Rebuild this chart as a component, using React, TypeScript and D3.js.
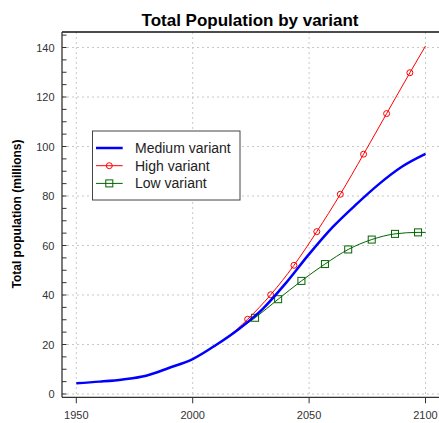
import React from "react";
import * as d3 from "d3";

const mediumYears = [1950, 1960, 1970, 1980, 1990, 2000, 2010, 2020, 2030, 2040, 2050, 2060, 2070, 2080, 2090, 2100];
const mediumValues = [4.3, 5.0, 5.9, 7.4, 10.6, 14.1, 19.8, 26.4, 34.3, 44.8, 56.5, 67.3, 76.4, 84.8, 91.9, 97.0];

const highYears = [2010, 2015, 2023.6, 2033.5, 2043.5, 2053.3, 2063.4, 2073.4, 2083.3, 2093.3, 2100];
const highValues = [19.8, 23.0, 30.2, 40.1, 52.0, 65.6, 80.7, 96.9, 113.3, 129.8, 140.6];
const highMarkerYears = [2023.6, 2033.5, 2043.5, 2053.3, 2063.4, 2073.4, 2083.3, 2093.3];
const highMarkerValues = [30.2, 40.1, 52.0, 65.6, 80.7, 96.9, 113.3, 129.8];

const lowYears = [2010, 2018, 2026.8, 2036.7, 2046.7, 2056.8, 2066.8, 2076.9, 2086.9, 2096.8, 2100];
const lowValues = [19.8, 25.0, 30.8, 38.3, 45.7, 52.5, 58.4, 62.4, 64.7, 65.3, 65.3];
const lowMarkerYears = [2026.8, 2036.7, 2046.7, 2056.8, 2066.8, 2076.9, 2086.9, 2096.8];
const lowMarkerValues = [30.8, 38.3, 45.7, 52.5, 58.4, 62.4, 64.7, 65.3];

const xTicks = [1950, 2000, 2050, 2100];
const yTicks = [0, 20, 40, 60, 80, 100, 120, 140];
const yMinorTicks = d3.range(0, 146, 5);

const legendLabels = ["Medium variant", "High variant", "Low variant"];

export default function App() {
  const W = 439, H = 423;
  const left = 62, top = 32, bottom = 397.3, right = 439;
  const x = d3.scaleLinear().domain([1950, 2100]).range([76.3, 425.5]);
  const y = d3.scaleLinear().domain([0, 140]).range([394, 47.5]);
  const line = d3.line<[number, number]>().x(d => x(d[0])).y(d => y(d[1])).curve(d3.curveMonotoneX);
  const zip = (a: number[], b: number[]) => a.map((v, i) => [v, b[i]] as [number, number]);
  const font = "'Liberation Sans', Arial, sans-serif";
  const blue = "#0000ff", red = "#ff0000", green = "#006400";

  return (
    <svg width={W} height={H} style={{ position: "absolute", left: 0, top: 0, background: "#fff" }} fontFamily={font}>
      <rect x={0} y={0} width={W} height={H} fill="#fff" />
      {yTicks.map(t => (
        <line key={"gy" + t} x1={left} x2={right} y1={y(t)} y2={y(t)} stroke="#c8c8c8" strokeWidth={1} strokeDasharray="2,3" />
      ))}
      {xTicks.map(t => (
        <line key={"gx" + t} x1={x(t)} x2={x(t)} y1={top} y2={bottom} stroke="#c8c8c8" strokeWidth={1} strokeDasharray="2,3" />
      ))}
      <line x1={left} x2={right} y1={top} y2={top} stroke="#111" strokeWidth={1.3} />
      <line x1={left} x2={left} y1={top} y2={bottom} stroke="#333" strokeWidth={1.3} />
      <line x1={left} x2={right} y1={bottom} y2={bottom} stroke="#333" strokeWidth={1.3} />
      {yMinorTicks.map(t => (
        <line key={"yt" + t} x1={left} x2={left + 4.5} y1={y(t)} y2={y(t)} stroke="#333" strokeWidth={1} />
      ))}
      {yTicks.map(t => (
        <text key={"yl" + t} x={54.5} y={y(t) + 4} fontSize={11} textAnchor="end" fill="#333">{t}</text>
      ))}
      {xTicks.map(t => (
        <g key={"xt" + t}>
          <line x1={x(t)} x2={x(t)} y1={bottom} y2={bottom + 6} stroke="#333" strokeWidth={1} />
          <text x={x(t)} y={419} fontSize={11} textAnchor="middle" fill="#333">{t}</text>
        </g>
      ))}
      <path d={line(zip(lowYears, lowValues)) || ""} fill="none" stroke={green} strokeWidth={1} />
      {lowMarkerYears.map((yr, i) => (
        <rect key={"lm" + i} x={x(yr) - 3.5} y={y(lowMarkerValues[i]) - 3.5} width={7} height={7} fill="none" stroke={green} strokeWidth={1} />
      ))}
      <path d={line(zip(highYears, highValues)) || ""} fill="none" stroke={red} strokeWidth={1} />
      {highMarkerYears.map((yr, i) => (
        <circle key={"hm" + i} cx={x(yr)} cy={y(highMarkerValues[i])} r={3} fill="none" stroke={red} strokeWidth={1} />
      ))}
      <path d={line(zip(mediumYears, mediumValues)) || ""} fill="none" stroke={blue} strokeWidth={2.5} />
      <text x={250} y={26} fontSize={17} fontWeight="bold" textAnchor="middle" fill="#000">Total Population by variant</text>
      <text transform="translate(21,214) rotate(-90)" fontSize={12} fontWeight="bold" textAnchor="middle" fill="#000">Total population (millions)</text>
      <rect x={92.5} y={131} width={147.5} height={69} fill="#fff" stroke="#444" strokeWidth={1} />
      {legendLabels.map((lab, i) => {
        const ly = 148 + i * 17.7;
        const col = [blue, red, green][i];
        return (
          <g key={"lg" + i}>
            <line x1={96} x2={122.7} y1={ly} y2={ly} stroke={col} strokeWidth={i === 0 ? 2.5 : 1} />
            {i === 1 && <circle cx={109.3} cy={ly} r={3} fill="none" stroke={red} strokeWidth={1} />}
            {i === 2 && <rect x={109.3 - 3.5} y={ly - 3.5} width={7} height={7} fill="none" stroke={green} strokeWidth={1} />}
            <text x={135} y={ly + 5} fontSize={14} fill="#222">{lab}</text>
          </g>
        );
      })}
    </svg>
  );
}
